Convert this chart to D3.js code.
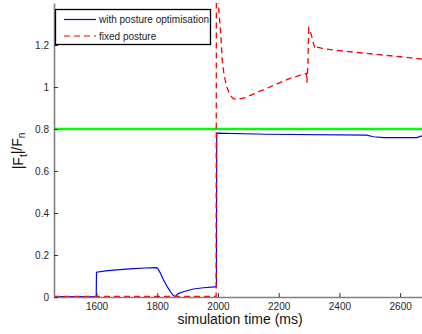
<!DOCTYPE html>
<html>
<head>
<meta charset="utf-8">
<script src="https://cdn.jsdelivr.net/npm/d3@7"></script>
<style>
body { margin: 0; background: #fff; }
text { font-family: Arial, "Liberation Sans", sans-serif; }
</style>
</head>
<body>
<div id="chart"></div>
<script>
// values (time in ms, ratio |Ft|/Fn)
var optTime = [1460, 1599, 1600, 1630, 1666, 1721, 1760, 1798, 1802, 1810, 1820, 1836, 1850, 1858, 1870, 1886, 1919, 1952, 1990, 1995, 1996, 2160, 2490, 2512, 2545, 2655, 2672];
var optValue = [0.002, 0.002, 0.118, 0.124, 0.129, 0.135, 0.138, 0.1395, 0.135, 0.115, 0.083, 0.042, 0.012, 0.001, 0.016, 0.025, 0.038, 0.044, 0.048, 0.048, 0.78, 0.775, 0.771, 0.763, 0.759, 0.759, 0.767];

var fixedTime = [1460, 1994, 1995, 1999, 2001, 2009, 2014, 2020, 2029, 2040, 2050, 2062, 2089, 2161, 2237, 2291, 2293, 2296, 2299, 2303, 2310, 2316, 2320, 2326, 2340, 2380, 2490, 2600, 2672];
var fixedValue = [0.003, 0.003, 1.9, 1.6, 1.40, 1.257, 1.13, 1.057, 1.0, 0.962, 0.945, 0.941, 0.949, 0.994, 1.041, 1.065, 1.02, 1.10, 1.28, 1.27, 1.235, 1.20, 1.182, 1.19, 1.185, 1.176, 1.160, 1.144, 1.133];

var threshold = 0.8;
var xTicks = [1600, 1800, 2000, 2200, 2400, 2600];
var yTicks = [0, 0.2, 0.4, 0.6, 0.8, 1, 1.2];
var legendNames = ["with posture optimisation", "fixed posture"];

drawChart();

function drawChart()
{
	var width = 422;
	var height = 334;
	var left = 54;
	var top = 3;
	var bottom = 297;

	var svg = d3.select("#chart")
		.append("svg")
		.attr("width", width)
		.attr("height", height);

	var xScale = d3.scaleLinear()
		.domain([1460, 2672])
		.range([left, width]);

	var yScale = d3.scaleLinear()
		.domain([0, 1.4])
		.range([bottom, top]);

	//clip so the spikes stop at the top
	svg.append("clipPath")
		.attr("id", "plotclip")
		.append("rect")
		.attr("x", left)
		.attr("y", top)
		.attr("width", width - left)
		.attr("height", bottom - top);

	var plot = svg.append("g").attr("clip-path", "url(#plotclip)");

	var line = d3.line()
		.x(function(d){ return xScale(d[0]); })
		.y(function(d){ return yScale(d[1]); });

	//threshold line
	plot.append("path")
		.datum([[1460, threshold], [2672, threshold]])
		.attr("d", line)
		.attr("fill", "none")
		.attr("stroke", "#00ff00")
		.attr("stroke-width", 2.5);

	var optData = optTime.map(function(t, i){ return [t, optValue[i]]; });
	var fixedData = fixedTime.map(function(t, i){ return [t, fixedValue[i]]; });

	plot.append("path")
		.datum(optData)
		.attr("d", line)
		.attr("fill", "none")
		.attr("stroke", "#0000ff")
		.attr("stroke-width", 1.2);

	plot.append("path")
		.datum(fixedData)
		.attr("d", line)
		.attr("fill", "none")
		.attr("stroke", "#ff0000")
		.attr("stroke-width", 1.3)
		.attr("stroke-dasharray", "6,4");

	//axes, ticks pointing inwards
	var xAxis = d3.axisBottom(xScale).tickValues(xTicks).tickSize(-4).tickSizeOuter(0).tickPadding(6).tickFormat(d3.format("d"));
	var yAxis = d3.axisLeft(yScale).tickValues(yTicks).tickSize(-4).tickSizeOuter(0).tickPadding(5).tickFormat(d3.format(""));

	var gx = svg.append("g")
		.attr("transform", "translate(0," + bottom + ")")
		.call(xAxis);

	var gy = svg.append("g")
		.attr("transform", "translate(" + left + ",0)")
		.call(yAxis);

	[gx, gy].forEach(function(g){
		g.select(".domain").attr("stroke", "#808080").attr("stroke-width", 1.6);
		g.selectAll(".tick line").attr("stroke", "#333");
		g.selectAll(".tick text").attr("fill", "#262626").style("font-size", "10px");
	});

	//axis labels
	svg.append("text")
		.attr("x", 240)
		.attr("y", 324)
		.style("text-anchor", "middle")
		.style("font-size", "14px")
		.attr("fill", "#111")
		.text("simulation time (ms)");

	var ylab = svg.append("text")
		.attr("transform", "translate(23,151) rotate(-90)")
		.style("text-anchor", "middle")
		.style("font-size", "14px")
		.attr("fill", "#111");
	ylab.append("tspan").text("|F");
	ylab.append("tspan").attr("dy", "0.35em").style("font-size", "10px").text("t");
	ylab.append("tspan").attr("dy", "-0.35em").text("|/F");
	ylab.append("tspan").attr("dy", "0.35em").style("font-size", "10px").text("n");

	//legend
	var legend = svg.append("g");
	legend.append("rect")
		.attr("x", 55.5)
		.attr("y", 9.5)
		.attr("width", 155)
		.attr("height", 35)
		.attr("fill", "#fff")
		.attr("stroke", "#000")
		.attr("stroke-width", 1.3);

	var styles = [["#0000ff", null, 19.5], ["#ff0000", "6,4", 36]];
	styles.forEach(function(s, i){
		legend.append("line")
			.attr("x1", 64)
			.attr("x2", 96)
			.attr("y1", s[2])
			.attr("y2", s[2])
			.attr("stroke", s[0])
			.attr("stroke-width", 1.2)
			.attr("stroke-dasharray", s[1]);
		legend.append("text")
			.attr("x", 99)
			.attr("y", s[2])
			.attr("dy", ".35em")
			.style("font-size", "10px")
			.attr("fill", "#222")
			.text(legendNames[i]);
	});
}
</script>
</body>
</html>
